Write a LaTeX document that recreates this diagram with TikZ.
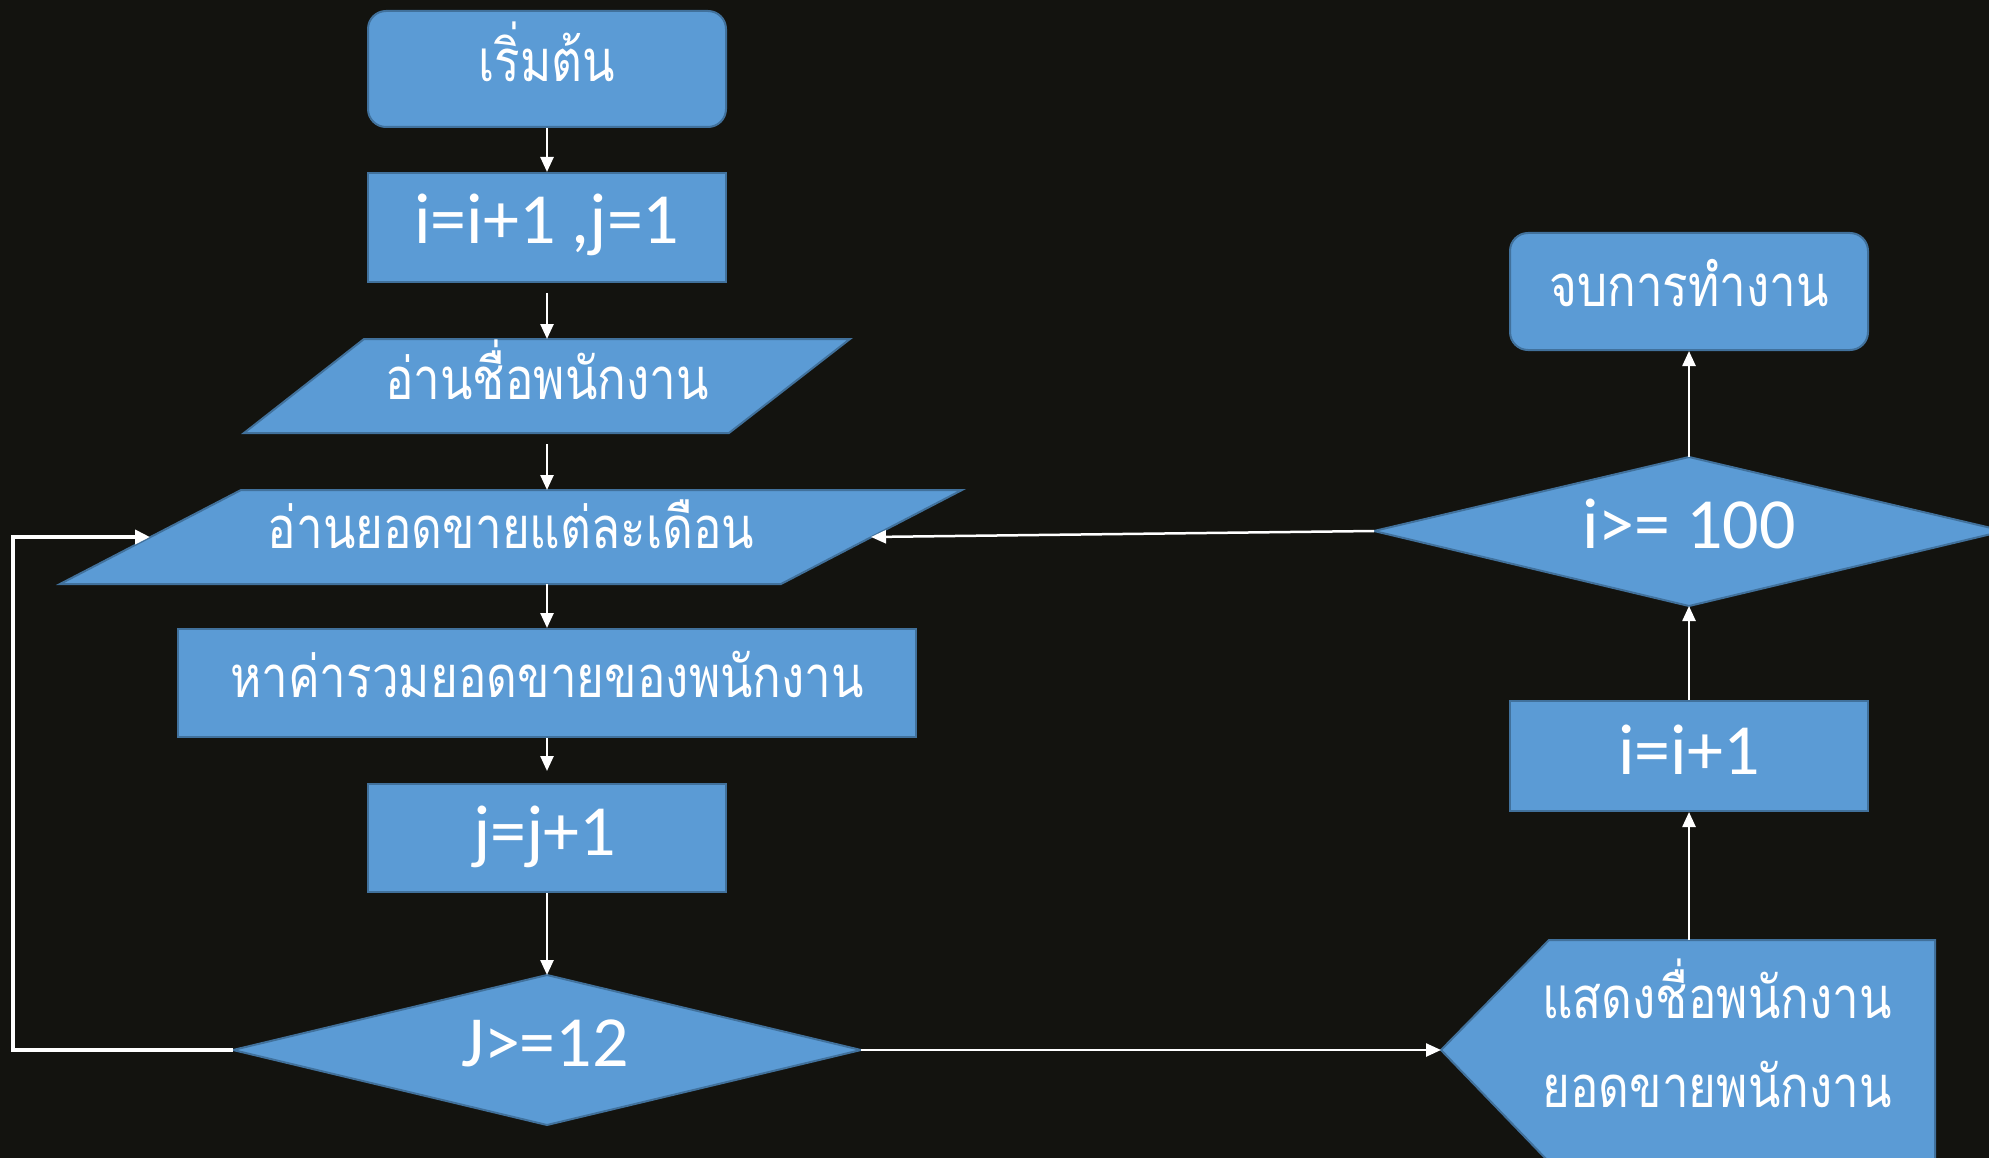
\documentclass[tikz,border=0pt]{standalone}
\usepackage{fontspec}
\setmainfont{Carlito}
\newfontfamily\thaifont[Script=Thai,FakeStretch=0.82]{Loma}
\usetikzlibrary{arrows.meta}
\definecolor{bgcol}{RGB}{19,19,15}
\definecolor{boxfill}{RGB}{91,155,213}
\definecolor{boxline}{RGB}{65,113,156}
\begin{document}
\begin{tikzpicture}[x=1pt,y=-1pt,
  shapeline/.style={fill=boxfill,draw=boxline,line width=2pt},
  procbox/.style={shapeline,rectangle,inner sep=0pt,minimum width=358pt},
  termbox/.style={procbox,rounded corners=18pt},
  thai/.style={text=white,inner sep=0pt,anchor=base,font=\thaifont\fontsize{58}{64}\selectfont},
  latin/.style={text=white,inner sep=0pt,anchor=base,font=\fontsize{72}{80}\selectfont},
  arr/.style={draw=white,line width=2.5pt,-{Triangle[length=15pt,width=13pt]}},
  looparr/.style={draw=white,line width=4pt,-{Triangle[length=15pt,width=14pt]}},
]
\fill[bgcol] (0,0) rectangle (1989,1158);
\useasboundingbox (0,0) rectangle (1989,1158);

% ---- left column ----
\node[termbox,minimum height=116pt] (start) at (547,69) {};
\node[thai] (tstart) at (547,82) {เริ่มต้น};

\node[procbox,minimum height=109pt] (box2) at (547,227.5) {};
\node[latin] (tbox2) at (547,244) {i=i+1 ,j=1};

\path[shapeline] (364,339) -- (850,339) -- (729,433) -- (244,433) -- cycle;
\coordinate (p1top) at (547,339);
\coordinate (p1bot) at (547,433);
\node[thai] (tp1) at (547,399) {อ่านชื่อพนักงาน};

\path[shapeline] (241,490) -- (962,490) -- (781,584) -- (60,584) -- cycle;
\coordinate (p2top) at (547,490);
\coordinate (p2bot) at (547,584);
\coordinate (p2left) at (150,537);
\coordinate (p2right) at (871,537);
\node[thai] (tp2) at (511,548) {อ่านยอดขายแต่ละเดือน};

\node[procbox,minimum width=738pt,minimum height=108pt] (sum) at (547,683) {};
\node[thai] (tsum) at (547,697) {หาค่ารวมยอดขายของพนักงาน};

\node[procbox,minimum height=108pt] (jbox) at (547,838) {};
\node[latin] (tjbox) at (545,855) {j=j+1};

\path[shapeline] (547,975) -- (861,1050) -- (547,1125) -- (233,1050) -- cycle;
\coordinate (Jtop) at (547,975);
\coordinate (Jleft) at (233,1050);
\coordinate (Jright) at (861,1050);
\node[latin] (tJ) at (545,1066) {J>=12};

% ---- right column ----
\path[shapeline] (1441,1050) -- (1549,940) -- (1935,940) -- (1935,1162) -- (1549,1162) -- cycle;
\coordinate (dleft) at (1441,1050);
\coordinate (dtop) at (1689,940);
\node[thai] (td1) at (1717,1018) {แสดงชื่อพนักงาน};
\node[thai] (td2) at (1717,1107) {ยอดขายพนักงาน};

\node[procbox,minimum height=110pt] (ibox) at (1689,756) {};
\node[latin] (tibox) at (1689,774) {i=i+1};

\path[shapeline] (1689,457) -- (2004,531) -- (1689,606) -- (1374,531) -- cycle;
\coordinate (idtop) at (1689,457);
\coordinate (idbot) at (1689,606);
\coordinate (idleft) at (1374,531);
\node[latin] (tid) at (1689,548) {i>= 100};

\node[termbox,minimum height=117pt] (endbox) at (1689,291.5) {};
\node[thai] (tend) at (1689,306) {จบการทำงาน};

% ---- connectors ----
\draw[arr] (start.south) -- (box2.north);
\draw[arr,shorten <=10pt] (box2.south) -- (p1top);
\draw[arr,shorten <=11pt] (p1bot) -- (p2top);
\draw[arr] (p2bot) -- (sum.north);
\draw[arr,shorten >=12pt] (sum.south) -- (jbox.north);
\draw[arr] (jbox.south) -- (Jtop);
\draw[looparr] (Jleft) -- ++(-220,0) |- (p2left);
\draw[arr] (Jright) -- (dleft);
\draw[arr] (dtop) -- (ibox.south);
\draw[arr] (ibox.north) -- (idbot);
\draw[arr] (idtop) -- (endbox.south);
\draw[arr] (idleft) -- (p2right);
\end{tikzpicture}
\end{document}
